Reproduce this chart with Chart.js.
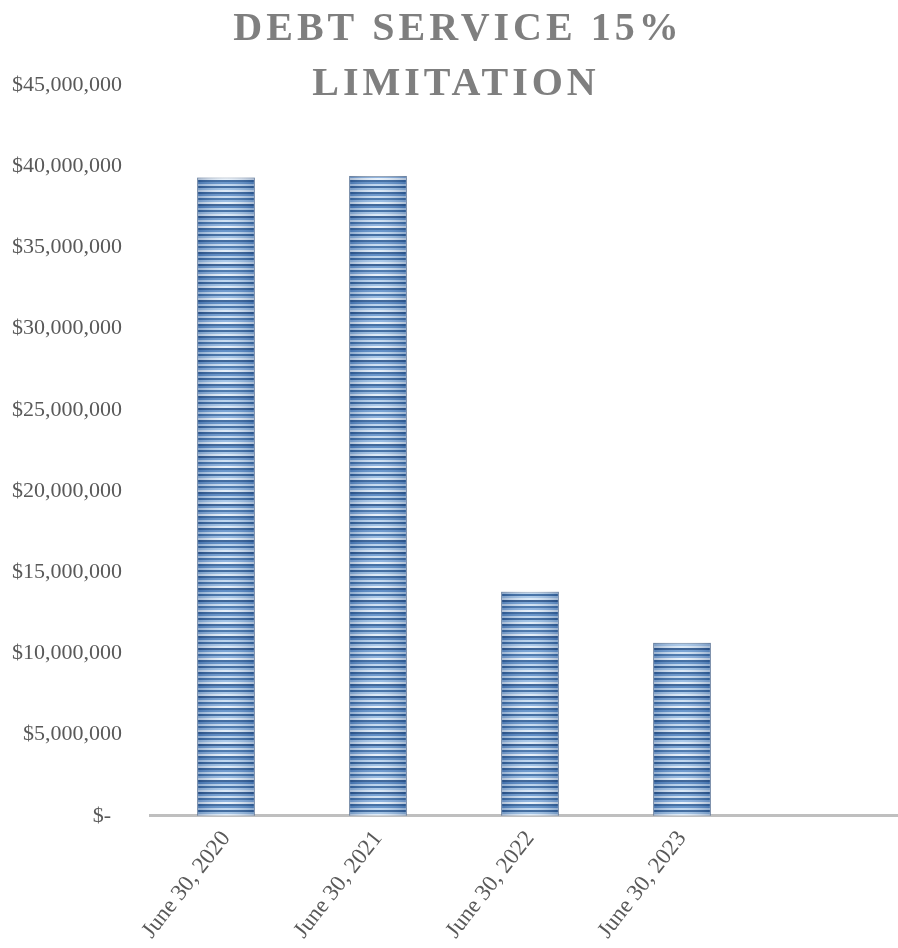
<!DOCTYPE html>
<html>
<head>
<meta charset="utf-8">
<script src="https://cdn.jsdelivr.net/npm/chart.js@4/dist/chart.umd.min.js"></script>
<style>
  body { margin: 0; background: #fff; overflow: hidden; }
  /* the plot runs a little past the right edge of the picture */
  #wrap { width: 910px; height: 948px; position: relative; }
</style>
</head>
<body>
<div id="wrap"><canvas id="chart"></canvas></div>
<script>
const categories = ['June 30, 2020', 'June 30, 2021', 'June 30, 2022', 'June 30, 2023', ''];
const limitValues = [39300000, 39400000, 13800000, 10650000, null];
const yTickLabels = ['$-  ', '$5,000,000', '$10,000,000', '$15,000,000', '$20,000,000',
  '$25,000,000', '$30,000,000', '$35,000,000', '$40,000,000', '$45,000,000'];
const titleLines = ['DEBT SERVICE 15%', 'LIMITATION'];

const ctx = document.getElementById('chart');

// striped fill, like the excel picture fill of the bars
const stripeCanvas = document.createElement('canvas');
stripeCanvas.width = 4; stripeCanvas.height = 48;
(() => {
  const g = stripeCanvas.getContext('2d');
  const rows = ['#2d5c96', '#5f8fc8', '#c4daf0', '#3a6ba4', '#8fb5df', '#e2eef9',
    '#2a568e', '#4f82c0', '#b6d1ec', '#34659f', '#a2c3e6', '#d9e8f7',
    '#27528a', '#6b9ad0', '#cde0f3', '#3b6ca6', '#84acdb', '#e6f0fa',
    '#30609a', '#5a8cc6', '#bcd5ef', '#2e5d96', '#97bce2', '#dbe9f7'];
  rows.forEach((col, i) => { g.fillStyle = col; g.fillRect(0, i * 2, 4, 2); });
})();
const stripes = ctx.getContext('2d').createPattern(stripeCanvas, 'repeat');

const barShade = {
  id: 'barShade',
  afterDatasetsDraw(chart) {
    const c = chart.ctx;
    chart.getDatasetMeta(0).data.forEach(bar => {
      if (bar.skip) return;
      const left = bar.x - bar.width / 2;
      const gr = c.createLinearGradient(left, 0, left + bar.width, 0);
      gr.addColorStop(0, 'rgba(25,60,115,0.30)');
      gr.addColorStop(0.5, 'rgba(255,255,255,0.10)');
      gr.addColorStop(1, 'rgba(25,60,115,0.30)');
      c.save();
      c.fillStyle = gr;
      c.fillRect(left, bar.y, bar.width, bar.base - bar.y);
      c.restore();
    });
  }
};

const spacedTitle = {
  id: 'spacedTitle',
  afterDraw(chart) {
    const c = chart.ctx;
    c.save();
    c.font = 'bold 40px "Liberation Serif", "DejaVu Serif", serif';
    if ('letterSpacing' in c) c.letterSpacing = '4px';
    c.fillStyle = '#7f7f7f';
    c.textAlign = 'center';
    c.textBaseline = 'alphabetic';
    c.fillText(titleLines[0], 458, 40);
    c.fillText(titleLines[1], 456, 95);
    c.restore();
  }
};

new Chart(ctx, {
  type: 'bar',
  data: {
    labels: categories,
    datasets: [{
      data: limitValues,
      backgroundColor: stripes,
      borderColor: '#8a9bb0',
      borderWidth: 1,
      barPercentage: 0.38,
      categoryPercentage: 1
    }]
  },
  options: {
    responsive: true,
    maintainAspectRatio: false,
    animation: false,
    // y tick padding is counted twice in the axis width, so pull left back
    layout: { autoPadding: false, padding: { top: 85, left: -16, right: 0, bottom: 2 } },
    plugins: { legend: { display: false }, tooltip: { enabled: false }, title: { display: false } },
    scales: {
      x: {
        grid: { display: false },
        border: { display: true, color: '#bfbfbf', width: 3 },
        ticks: {
          color: '#595959',
          font: { family: '"Liberation Serif", serif', size: 23 },
          minRotation: 52, maxRotation: 52,
          autoSkip: false,
          padding: 2
        }
      },
      y: {
        min: 0, max: 45000000,
        grid: { display: false, drawTicks: false },
        border: { display: false },
        ticks: {
          stepSize: 5000000,
          color: '#595959',
          padding: 28,
          font: { family: '"Liberation Serif", serif', size: 22 },
          callback: (v, i) => yTickLabels[i]
        }
      }
    }
  },
  plugins: [barShade, spacedTitle]
});
</script>
</body>
</html>
